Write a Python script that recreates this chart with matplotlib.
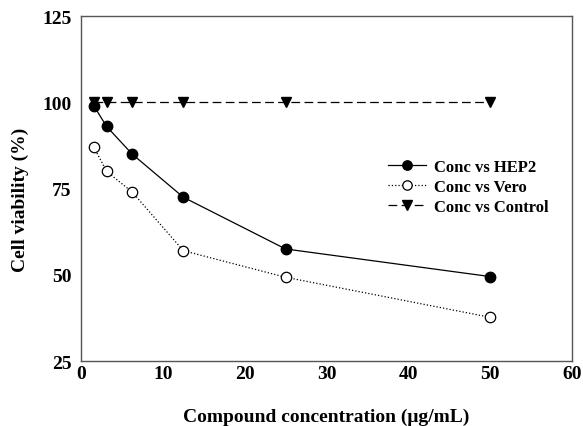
import matplotlib
matplotlib.use('Agg')
import matplotlib.pyplot as plt

# concentrations (ug/mL) and viability (%)
conc = [1.5625, 3.125, 6.25, 12.5, 25, 50]
hep2 = [99, 93, 85, 72.5, 57.5, 49.5]
vero = [87, 80, 74, 57, 49.3, 37.7]
control = [100, 100, 100, 100, 100, 100]

plt.rcParams['font.family'] = ['Liberation Serif', 'DejaVu Serif']
plt.rcParams['font.weight'] = 'bold'

fig = plt.figure(figsize=(5.83, 4.27), dpi=100)
ax = fig.add_axes([0.139, 0.152, 0.842, 0.808])

ax.plot(conc, hep2, '-', color='black', lw=0.9, marker='o', ms=7.5,
        mfc='black', mec='black', label='Conc vs HEP2')
ax.plot(conc, vero, ':', color='black', lw=0.9, marker='o', ms=7.5,
        mfc='white', mec='black', mew=0.9, label='Conc vs Vero')
ax.plot(conc, control, '--', color='black', lw=0.9, marker='v', ms=7.5,
        mfc='black', mec='black', dashes=(7, 3.5), label='Conc vs Control')

ax.set_xlim(0, 60)
ax.set_ylim(25, 125)
ax.set_xticks([0, 10, 20, 30, 40, 50, 60])
ax.set_yticks([25, 50, 75, 100, 125])
ax.tick_params(length=0, labelsize=14)
ax.tick_params(axis='x', pad=3)
ax.tick_params(axis='y', pad=7)
for lbl in ax.get_xticklabels() + ax.get_yticklabels():
    lbl.set_fontweight('bold')
for sp in ax.spines.values():
    sp.set_color('#555555')
    sp.set_linewidth(1.0)

ax.set_xlabel('Compound concentration (μg/mL)', fontsize=14, fontweight='bold', labelpad=18)
ax.set_ylabel('Cell viability (%)', fontsize=14, fontweight='bold')
ax.yaxis.set_label_coords(-0.107, 0.47)

leg = ax.legend(loc='upper left', bbox_to_anchor=(0.594, 0.63), frameon=False,
                fontsize=12, handlelength=2.3, handletextpad=0.5, labelspacing=0.25,
                markerscale=0.9)
for t in leg.get_texts():
    t.set_fontweight('bold')

fig.savefig('out.png', dpi=100)
